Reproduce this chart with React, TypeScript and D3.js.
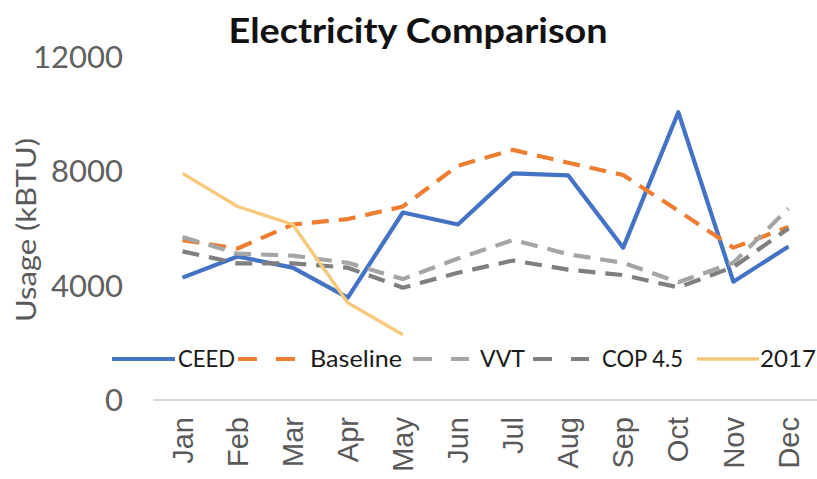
import React from "react";
import * as d3 from "d3";

const months = ["Jan", "Feb", "Mar", "Apr", "May", "Jun", "Jul", "Aug", "Sep", "Oct", "Nov", "Dec"];
const ceed = [4280, 5020, 4630, 3580, 6560, 6140, 7930, 7860, 5330, 10070, 4140, 5370];
const baseline = [5590, 5300, 6140, 6330, 6770, 8200, 8750, 8300, 7870, 6620, 5330, 6050];
const vvt = [5700, 5120, 5050, 4800, 4230, 4950, 5600, 5100, 4800, 4120, 4800, 6700];
const cop45 = [5200, 4780, 4780, 4630, 3930, 4450, 4880, 4560, 4370, 3940, 4650, 6000];
const y2017 = [7930, 6770, 6140, 3400, 2280];
const yTicks = [0, 4000, 8000, 12000];

const seriesNames = ["CEED", "Baseline", "VVT", "COP 4.5", "2017"];
const seriesValues = [ceed, baseline, vvt, cop45, y2017];

const styles = [
  { color: "#4472C4", width: 4.2, dash: null as string | null },
  { color: "#ED7D31", width: 4.2, dash: "17 10" },
  { color: "#A5A5A5", width: 4.2, dash: "17 10" },
  { color: "#7F7F7F", width: 4.2, dash: "17 10" },
  { color: "#F7C97C", width: 3.4, dash: null as string | null },
];
const legendLayout = [
  { sx: 112, sw: 63, tx: 178, tw: 57 },
  { sx: 238, sw: 62, tx: 310, tw: 92 },
  { sx: 413, sw: 56, tx: 480, tw: 45 },
  { sx: 533, sw: 56, tx: 602, tw: 81 },
  { sx: 697, sw: 62, tx: 760, tw: 56 },
];

export default function App() {
  const W = 817, H = 479;
  const x = d3.scaleBand<string>().domain(months).range([155, 816]);
  const y = d3.scaleLinear().domain([0, 12000]).range([400, 57]);
  const cx = (m: string) => (x(m) as number) + x.bandwidth() / 2;
  const line = d3
    .line<number>()
    .x((_, i) => cx(months[i]))
    .y((v) => y(v));

  return (
    <svg width={W} height={H} style={{ position: "absolute", left: 0, top: 0, background: "#fff" }}>
      <rect width={W} height={H} fill="#fff" />
      <text x={418} y={43} textAnchor="middle" fontFamily="Lato" fontWeight="bold" fontSize={34}
        fill="#111" textLength={379} lengthAdjust="spacingAndGlyphs">Electricity Comparison</text>

      {yTicks.map((t) => (
        <text key={t} x={123} y={y(t)} dy="0.36em" textAnchor="end" fontFamily="Lato" fontSize={31}
          fill="#606060">{t}</text>
      ))}

      <text transform="translate(36,230) rotate(-90)" textAnchor="middle" fontFamily="Lato" fontSize={26}
        fill="#595959" textLength={184} lengthAdjust="spacingAndGlyphs">Usage (kBTU)</text>

      <line x1={153} x2={817} y1={y(0)} y2={y(0)} stroke="#D9D9D9" strokeWidth={2} />

      {months.map((m) => (
        <text key={m} transform={`translate(${cx(m)},417) rotate(-90)`} dy="0.35em" textAnchor="end"
          fontFamily="Liberation Sans" fontSize={29} fill="#595959">{m}</text>
      ))}

      {seriesValues.map((vals, i) => (
        <path key={seriesNames[i]} d={line(vals) || ""} fill="none" stroke={styles[i].color}
          strokeWidth={styles[i].width} strokeDasharray={styles[i].dash || undefined}
          strokeLinejoin="round" />
      ))}

      {seriesNames.map((n, i) => {
        const L = legendLayout[i];
        return (
          <g key={n}>
            <line x1={L.sx} x2={L.sx + L.sw} y1={359} y2={359} stroke={styles[i].color}
              strokeWidth={styles[i].width} strokeDasharray={styles[i].dash ? "19 19" : undefined} />
            <text x={L.tx} y={367} fontFamily="Lato" fontSize={23} fill="#1a1a1a"
              textLength={L.tw} lengthAdjust="spacingAndGlyphs">{n}</text>
          </g>
        );
      })}
    </svg>
  );
}
